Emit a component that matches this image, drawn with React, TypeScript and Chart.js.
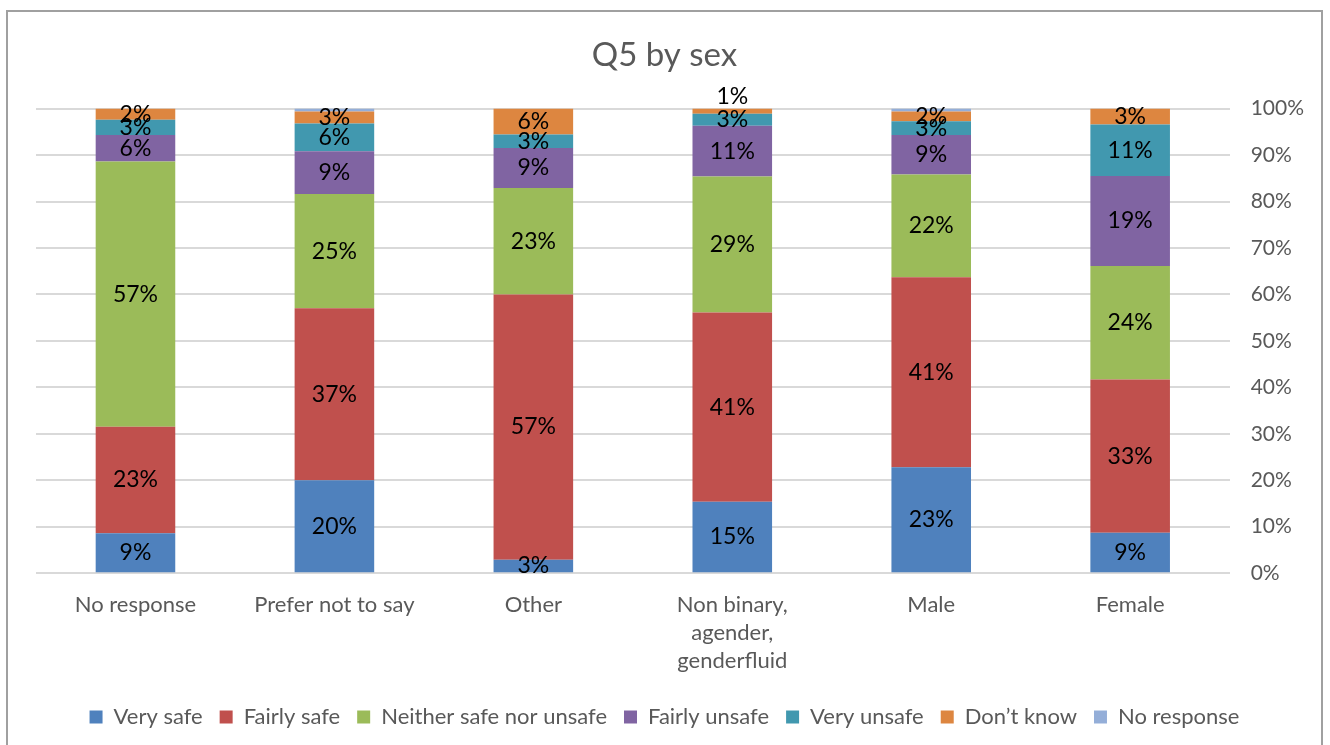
import React, { useEffect, useRef } from "react";
import { Chart, registerables } from "chart.js";

Chart.register(...registerables);

const categories: (string | string[])[] = [
  "No response",
  "Prefer not to say",
  "Other",
  ["Non binary,", "agender,", "genderfluid"],
  "Male",
  "Female",
];

const verySafe = [8.6, 20.0, 2.9, 15.4, 22.8, 8.7];
const fairlySafe = [22.9, 37.0, 57.1, 40.7, 40.9, 33.0];
const neither = [57.1, 24.6, 22.9, 29.3, 22.1, 24.4];
const fairlyUnsafe = [5.7, 9.2, 8.6, 10.9, 8.5, 19.4];
const veryUnsafe = [3.3, 6.0, 2.9, 2.6, 3.0, 11.1];
const dontKnow = [2.4, 2.6, 5.6, 1.1, 2.1, 3.4];
const noResponse = [0, 0.6, 0, 0, 0.6, 0];

const seriesNames = [
  "Very safe",
  "Fairly safe",
  "Neither safe nor unsafe",
  "Fairly unsafe",
  "Very unsafe",
  "Don\u2019t know",
  "No response",
];
const seriesColors = ["#4f81bd", "#c0504d", "#9bbb59", "#8064a2", "#4198af", "#dd8640", "#94aed8"];
const seriesValues = [verySafe, fairlySafe, neither, fairlyUnsafe, veryUnsafe, dontKnow, noResponse];

const yTicks = [0, 10, 20, 30, 40, 50, 60, 70, 80, 90, 100];

const FONT = "Lato, 'Open Sans', sans-serif";

const labelPlugin = {
  id: "segLabels",
  afterDatasetsDraw(chart: any) {
    const ctx = chart.ctx;
    ctx.save();
    ctx.font = `23px ${FONT}`;
    ctx.fillStyle = "#000";
    ctx.textAlign = "center";
    ctx.textBaseline = "middle";
    chart.data.datasets.forEach((ds: any, di: number) => {
      if (di === 6) return;
      const meta = chart.getDatasetMeta(di);
      meta.data.forEach((el: any, i: number) => {
        const v = ds.data[i];
        if (!v) return;
        const h = Math.abs(el.base - el.y);
        const cy = h < 8 ? el.y - 12 : (el.y + el.base) / 2;
        ctx.fillText(Math.round(v) + "%", el.x, cy);
      });
    });
    ctx.restore();
  },
};

export default function App() {
  const ref = useRef<HTMLCanvasElement | null>(null);
  useEffect(() => {
    if (!ref.current) return;
    const chart = new Chart(ref.current, {
      type: "bar",
      data: {
        labels: categories as any,
        datasets: seriesValues.map((vals, i) => ({
          label: seriesNames[i],
          data: vals,
          backgroundColor: seriesColors[i],
          borderWidth: 0,
          barPercentage: 0.4,
          categoryPercentage: 1,
          xAxisID: "x",
          yAxisID: "y",
        })),
      },
      options: {
        animation: false,
        responsive: false,
        maintainAspectRatio: false,
        layout: { padding: { left: 0, right: 0, top: 0, bottom: 9 } },
        plugins: {
          title: {
            display: true,
            text: "Q5 by sex",
            color: "#595959",
            font: { family: FONT, size: 33, weight: "normal" },
            padding: { top: 24, bottom: 33 },
          },
          legend: {
            position: "bottom",
            labels: {
              color: "#595959",
              font: { family: FONT, size: 22 },
              boxWidth: 13,
              boxHeight: 13,
              padding: 17,
            },
          },
          tooltip: { enabled: false },
        },
        scales: {
          y: {
            stacked: true,
            position: "right",
            min: 0,
            max: 100,
            afterBuildTicks: (axis: any) => {
              axis.ticks = yTicks.map((v) => ({ value: v }));
            },
            afterFit: (s: any) => {
              s.width -= 4;
            },
            grid: { color: "#d9d9d9", lineWidth: 2, drawTicks: false },
            border: { display: false },
            ticks: {
              color: "#595959",
              font: { family: FONT, size: 21 },
              padding: 21,
              callback: (v: any) => v + "%",
            },
          },
          x: {
            stacked: true,
            grid: { display: false },
            border: { display: false },
            ticks: {
              color: "#595959",
              font: { family: FONT, size: 22, lineHeight: 1.27 },
              maxRotation: 0,
              padding: 10,
            },
            afterFit: (s: any) => {
              s.height += 4;
            },
          },
          yLeft: {
            type: "linear",
            position: "left",
            display: true,
            grid: { display: false },
            border: { display: false },
            ticks: { display: false },
            afterFit: (s: any) => {
              s.width = 28;
            },
          },
        },
      },
      plugins: [labelPlugin],
    });
    return () => chart.destroy();
  }, []);
  return (
    <div
      style={{
        position: "absolute",
        left: 6,
        top: 10,
        width: 1317,
        height: 760,
        border: "2px solid #a0a0a0",
        boxSizing: "border-box",
        background: "#fff",
      }}
    >
      <canvas ref={ref} width={1313} height={735} style={{ display: "block" }} />
    </div>
  );
}
